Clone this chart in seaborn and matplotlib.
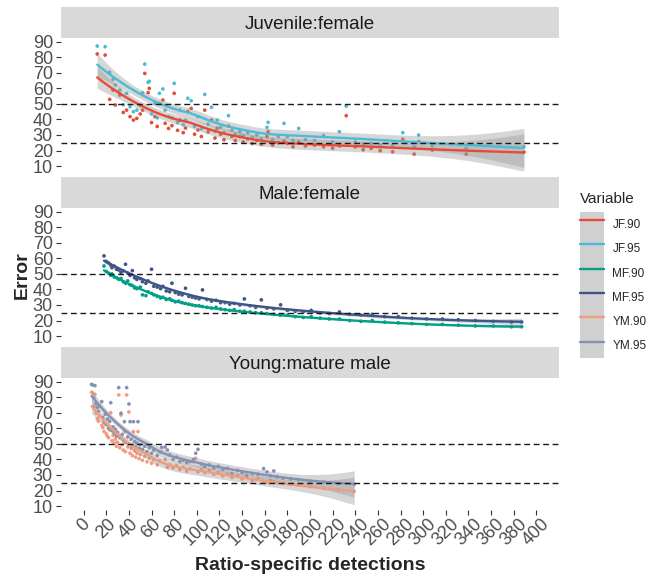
import numpy as np
import pandas as pd
import matplotlib
matplotlib.use("Agg")
import matplotlib.pyplot as plt
import seaborn as sns
from matplotlib.patches import Patch
from matplotlib.lines import Line2D
from matplotlib.legend_handler import HandlerTuple

# ---------------- data ----------------
facet_titles = ["Juvenile:female", "Male:female", "Young:mature male"]
variables = ["JF.90", "JF.95", "MF.90", "MF.95", "YM.90", "YM.95"]
colors = ["#E64B35", "#4DBBD5", "#00A087", "#3C5488", "#F39B7F", "#8491B4"]
y_ticks = [10, 20, 30, 40, 50, 60, 70, 80, 90]
x_ticks = list(range(0, 401, 20))
ref_lines = [50, 25]

JF_x = [12, 19, 23, 26, 28, 32, 35, 38, 41, 44, 47, 50, 52, 54, 57, 58, 60, 63, 65, 67,
        70, 72, 75, 78, 80, 83, 85, 88, 90, 92, 95, 98, 101, 104, 107, 110, 113, 116, 118, 121,
        124, 128, 131, 134, 138, 141, 145, 149, 153, 157, 162, 163, 167, 172, 177, 180, 185, 190, 196, 204,
        212, 220, 226, 232, 240, 247, 254, 262, 273, 282, 292, 296, 308, 338, 389]
JF90 = [82.1, 81.4, 52.9, 58.9, 49.3, 55.7, 44.5, 46.0, 41.8, 39.6,
        40.7, 43.5, 46.0, 69.6, 57.2, 60.0, 38.0, 41.8, 35.5, 50.3,
        52.5, 37.5, 34.2, 36.0, 56.8, 33.0, 39.6, 31.5, 34.5, 45.0,
        47.1, 30.5, 33.2, 29.0, 46.0, 32.0, 39.6, 28.0, 34.3, 30.5,
        27.0, 35.7, 29.0, 26.5, 28.9, 25.5, 27.5, 24.5, 26.5, 24.0,
        28.9, 32.1, 23.5, 25.0, 26.0, 24.6, 22.4, 25.5, 23.0, 23.5,
        22.4, 21.5, 23.0, 42.4, 22.4, 20.5, 21.4, 19.9, 19.2, 27.2,
        17.7, 25.7, 20.3, 17.7, 19.0]
JF95 = [87.2, 86.8, 70.3, 65.8, 62.1, 58.9, 49.5, 56.8, 48.2, 45.0,
        46.0, 49.0, 57.2, 75.6, 63.9, 64.5, 43.5, 50.3, 41.0, 56.8,
        59.6, 46.0, 41.8, 41.0, 63.2, 38.0, 46.0, 36.5, 39.5, 53.6,
        52.0, 35.5, 41.8, 34.0, 56.1, 37.0, 47.8, 32.5, 39.6, 35.0,
        31.5, 42.4, 33.0, 30.5, 32.1, 29.5, 31.5, 28.5, 30.0, 27.5,
        34.9, 38.1, 27.0, 29.0, 37.5, 29.0, 26.5, 34.2, 27.0, 26.5,
        29.7, 25.5, 32.1, 48.6, 25.5, 24.0, 24.6, 23.5, 23.5, 31.5,
        22.4, 30.0, 23.0, 21.4, 22.5]

MF_x = [18, 20, 22, 24, 25, 27, 29, 31, 33, 35, 37, 39, 41, 43, 45, 47, 50, 52, 55, 57,
        60, 62, 65, 68, 70, 73, 76, 78, 81, 84, 87, 90, 93, 96, 99, 102, 105, 109, 113, 117,
        121, 125, 129, 133, 138, 142, 147, 152, 157, 162, 168, 174, 180, 187, 194, 201, 209, 217, 226, 235,
        245, 255, 266, 278, 290, 303, 317, 331, 346, 362, 378, 387]
MF90 = [55.1, 51.5, 50.5, 49.0, 50.0, 48.0, 47.5, 46.5, 47.0, 45.0,
        44.0, 45.5, 43.0, 42.5, 41.0, 40.5, 41.5, 36.5, 36.0, 38.5,
        37.5, 36.5, 35.5, 34.5, 35.0, 33.5, 34.0, 33.0, 32.0, 32.5,
        31.5, 31.0, 30.5, 30.0, 29.5, 29.5, 29.0, 28.5, 28.0, 28.5,
        27.5, 27.0, 26.5, 27.0, 26.0, 26.0, 25.5, 25.0, 25.0, 24.5,
        24.0, 23.5, 23.5, 22.5, 22.0, 22.5, 21.5, 21.0, 21.0, 20.0,
        19.5, 20.0, 19.0, 18.5, 18.0, 17.5, 17.5, 17.0, 16.5, 16.5,
        16.0, 16.0]
MF95 = [61.6, 58.0, 57.0, 55.5, 54.0, 55.0, 53.0, 52.5, 51.0, 52.0,
        56.2, 50.5, 49.0, 52.1, 47.5, 46.5, 47.0, 45.0, 44.0, 45.5,
        53.0, 42.0, 41.5, 40.5, 42.0, 39.0, 38.5, 44.0, 38.0, 37.0,
        36.5, 40.8, 35.5, 35.0, 34.5, 34.0, 39.7, 33.5, 32.5, 33.0,
        31.5, 31.5, 30.5, 31.0, 30.0, 33.9, 29.5, 28.5, 33.3, 28.0,
        27.5, 30.1, 26.5, 26.0, 25.5, 26.5, 25.0, 24.5, 25.5, 24.0,
        23.5, 24.0, 22.5, 22.5, 21.5, 21.0, 21.0, 20.5, 20.0, 19.5,
        19.0, 19.0]

YM_x = [7, 8, 9, 10, 11, 12, 13, 14, 16, 17, 18, 19, 20, 21, 22, 23, 24, 25, 26, 27,
        28, 29, 30, 31, 32, 33, 34, 35, 36, 37, 38, 39, 40, 41, 42, 43, 44, 45, 46, 47,
        48, 49, 50, 52, 54, 56, 58, 60, 62, 65, 67, 69, 72, 74, 76, 79, 82, 85, 88, 91,
        94, 97, 99, 101, 104, 107, 111, 115, 119, 123, 127, 131, 136, 140, 144, 149, 154, 159, 162, 165,
        168, 171, 176, 183, 190, 200, 212, 225, 239]
YM90 = [83.2, 82.5, 74.0, 81.9, 70.0, 66.0, 64.5, 68.0,
        62.0, 60.5, 58.0, 63.0, 56.5, 55.0, 54.0, 59.0, 70.1, 52.0,
        55.5, 50.5, 53.0, 48.5, 51.0, 81.5, 47.5, 68.6, 49.5, 46.0,
        57.9, 45.0, 81.5, 48.0, 70.5, 44.0, 47.0, 42.5, 57.9, 45.5,
        41.5, 44.0, 57.9, 40.5, 43.0,
        39.5, 42.0, 38.5, 41.0, 37.5,
        40.0, 36.5, 39.0, 44.6, 40.0,
        35.0, 36.5, 34.5, 36.0, 33.5,
        35.0, 32.5, 34.0, 38.6, 40.7,
        32.0, 33.5, 31.5, 33.0, 30.5,
        31.5, 29.5, 30.5, 28.5, 29.5,
        27.5, 28.5, 26.5, 27.5, 26.0,
        25.5, 26.5, 25.5, 25.0, 24.5,
        24.0, 23.5, 22.5, 21.5, 20.5,
        19.5]
YM95 = [88.3, 87.9, 79.5, 87.5, 76.0, 73.5, 71.0, 74.5,
        77.2, 67.0, 64.0, 69.0, 62.5, 66.0, 60.0, 64.5, 76.5, 58.5,
        61.0, 57.0, 59.5, 55.0, 57.5, 86.2, 54.0, 69.7, 56.0, 52.5,
        64.3, 51.0, 86.2, 54.5, 75.7, 64.3, 53.0, 49.0, 64.3, 51.5,
        48.0, 50.5, 64.3, 47.0, 49.5,
        46.5, 48.5, 45.0, 47.5, 44.0,
        46.0, 42.5, 45.0, 47.8, 48.0,
        46.1, 42.9, 40.0, 41.5, 38.6,
        39.5, 38.0, 38.6, 40.0, 44.0,
        46.5, 37.0, 35.4, 36.5, 34.5,
        35.5, 33.5, 34.3, 30.9, 33.0,
        31.5, 29.8, 31.0, 30.5, 34.1,
        32.0, 29.5, 32.6, 28.9, 28.0,
        27.5, 27.0, 26.0, 25.5, 24.5,
        24.0]

# ---------------- build tidy frame ----------------
series = [
    (facet_titles[0], "JF.90", JF_x, JF90), (facet_titles[0], "JF.95", JF_x, JF95),
    (facet_titles[1], "MF.90", MF_x, MF90), (facet_titles[1], "MF.95", MF_x, MF95),
    (facet_titles[2], "YM.90", YM_x, YM90), (facet_titles[2], "YM.95", YM_x, YM95),
]
frames = []
for facet, var, xs, ys in series:
    frames.append(pd.DataFrame({"facet": facet, "Variable": var, "x": xs, "Error": ys}))
df = pd.concat(frames, ignore_index=True)
palette = dict(zip(variables, colors))


def loess(x, y, grid, span=0.75):
    x = np.asarray(x, float)
    y = np.asarray(y, float)
    n = len(x)
    q = int(np.floor(n * span))

    def op(x0):
        d = np.abs(x - x0)
        h = np.sort(d)[q - 1] * 1.0001
        u = np.clip(d / h, 0, 1)
        w = (1 - u ** 3) ** 3
        X = np.column_stack([np.ones(n), x - x0, (x - x0) ** 2])
        XtW = X.T * w
        return np.linalg.solve(XtW @ X, XtW)[0]

    L = np.array([op(v) for v in x])
    res = y - L @ y
    IL = np.eye(n) - L
    d1 = np.trace(IL.T @ IL)
    sigma = np.sqrt(res @ res / d1)
    Lg = np.array([op(g) for g in grid])
    fit = Lg @ y
    se = sigma * np.sqrt((Lg ** 2).sum(axis=1))
    return fit, fit - 1.97 * se, fit + 1.97 * se


# ---------------- figure ----------------
sns.set_style("white")
plt.rcParams["font.family"] = ["Liberation Sans", "DejaVu Sans"]

W, H = 650, 580
fig = plt.figure(figsize=(W / 100, H / 100), dpi=100)


def rect(l, t, r, b):
    return [l / W, 1 - b / H, (r - l) / W, (b - t) / H]


panels = [(38.3, 169.5), (208.3, 339.5), (378.3, 509.5)]
strips = [(7, 38.3), (177, 208.3), (347, 378.3)]
PL, PR = 61, 559

axes = []
for i, facet in enumerate(facet_titles):
    ax = fig.add_axes(rect(PL, panels[i][0], PR, panels[i][1]))
    axes.append(ax)
    sub = df[df["facet"] == facet]
    sns.scatterplot(data=sub, x="x", y="Error", hue="Variable", palette=palette,
                    s=7, linewidth=0, legend=False, ax=ax, zorder=2)
    fits = []
    for var in sub["Variable"].unique():
        ss = sub[sub["Variable"] == var]
        grid = np.linspace(ss["x"].min(), ss["x"].max(), 120)
        fit, lo, hi = loess(ss["x"], ss["Error"], grid)
        ax.fill_between(grid, lo, hi, color="#999999", alpha=0.4, lw=0, zorder=3)
        fits.append(pd.DataFrame({"x": grid, "Error": fit, "Variable": var}))
    fdf = pd.concat(fits, ignore_index=True)
    sns.lineplot(data=fdf, x="x", y="Error", hue="Variable", palette=palette,
                 lw=1.7, legend=False, ax=ax, estimator=None, sort=True, zorder=4)
    for yv in ref_lines:
        ax.axhline(yv, color="#1a1a1a", lw=1.0, dashes=(4.2, 2.6), zorder=5)
    ax.set_xlim(-20, 420)
    ax.set_ylim(7.8, 92.2)
    ax.set_yticks(y_ticks)
    ax.set_yticklabels([str(v) for v in y_ticks])
    ax.set_xticks(x_ticks)
    ax.set_xlabel("")
    ax.set_ylabel("")
    for s in ax.spines.values():
        s.set_visible(False)
    ax.tick_params(axis="y", left=True, length=3.8, width=0.8, color="#333333",
                   labelsize=13, labelcolor="#4D4D4D", pad=2)
    if i < 2:
        ax.tick_params(axis="x", bottom=False, labelbottom=False)
    else:
        ax.tick_params(axis="x", bottom=True, length=3.8, width=0.8, color="#333333",
                       labelsize=13, labelcolor="#4D4D4D", pad=0.5)
        for lab in ax.get_xticklabels():
            lab.set_rotation(45)
            lab.set_ha("center")
            lab.set_va("top")
    ax.set_facecolor("white")

    sax = fig.add_axes(rect(PL, strips[i][0], PR, strips[i][1]))
    sax.set_facecolor("#D9D9D9")
    sax.set_xticks([])
    sax.set_yticks([])
    for s in sax.spines.values():
        s.set_visible(False)
    sax.text(0.5, 0.5, facet, ha="center", va="center_baseline", fontsize=13.5,
             color="#1A1A1A", transform=sax.transAxes)

fig.text(22 / W, 1 - 275 / H, "Error", rotation=90, ha="center", va="center",
         fontsize=14, fontweight="bold")
fig.text(310 / W, 1 - 565 / H, "Ratio-specific detections", ha="center", va="center",
         fontsize=14, fontweight="bold")

handles = [(Patch(facecolor="#D0D0D0", edgecolor="none"), Line2D([], [], color=c, lw=1.7))
           for c in colors]
leg = fig.legend(handles, variables, loc="upper left", bbox_to_anchor=(580 / W, 1 - 192 / H),
                 bbox_transform=fig.transFigure, frameon=False, title="Variable",
                 title_fontsize=11, fontsize=8.5, handlelength=2.05, handleheight=2.79,
                 labelspacing=0, handletextpad=0.7, borderpad=0, borderaxespad=0,
                 alignment="left", handler_map={tuple: HandlerTuple(ndivide=1, pad=0)})
leg._legend_box.sep = 4.5

fig.savefig("out.png", dpi=100)
